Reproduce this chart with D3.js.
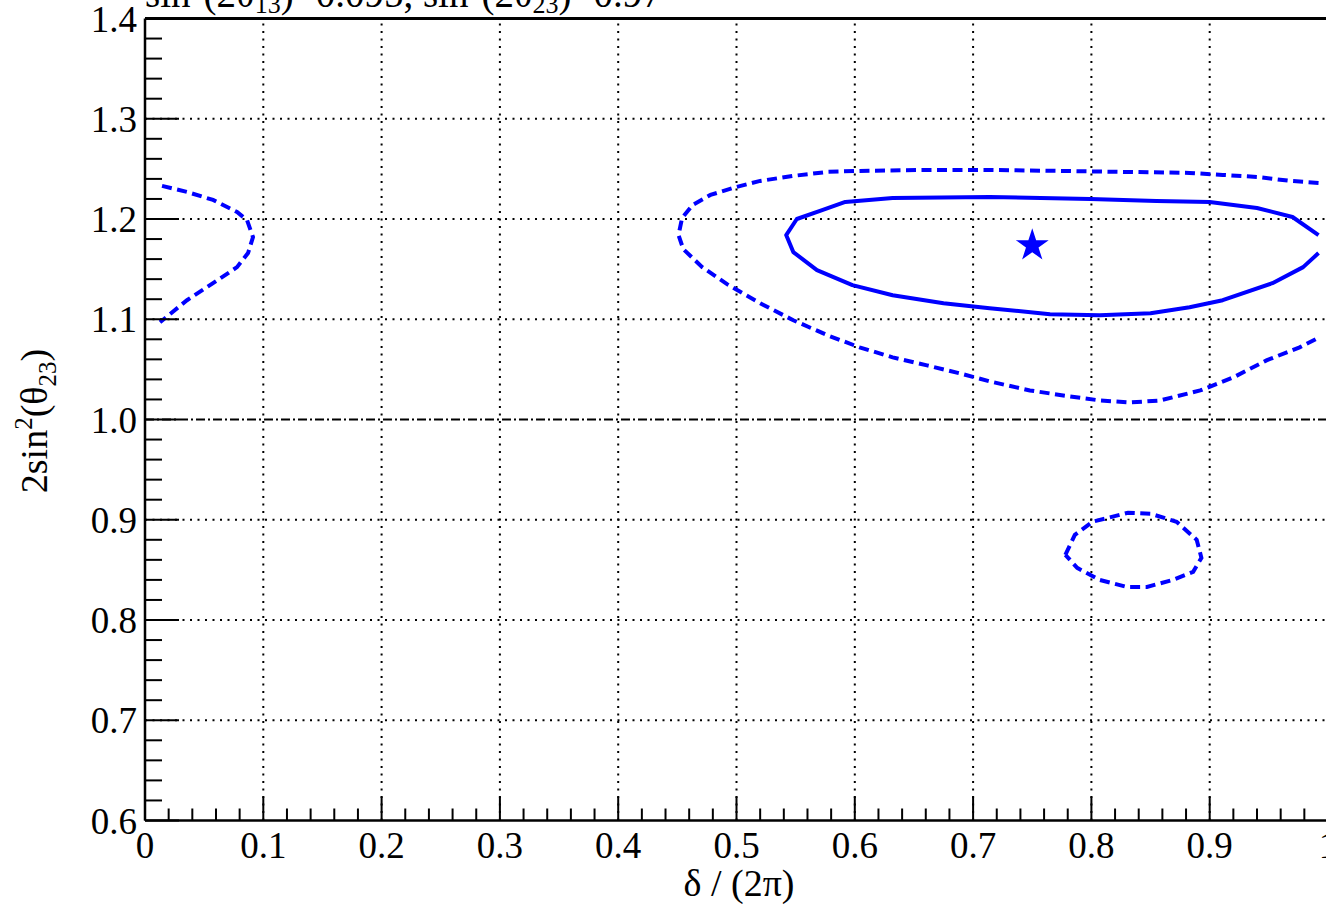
<!DOCTYPE html>
<html>
<head>
<meta charset="utf-8">
<script src="https://cdn.jsdelivr.net/npm/d3@7"></script>
<style>
  html, body { margin: 0; padding: 0; background: #fff; }
  svg { display: block; }
  text { font-family: "Liberation Serif", "DejaVu Serif", serif; fill: #000; }
</style>
</head>
<body>
<svg id="chart" width="1326" height="904"></svg>
<script>
// ---------------- data ----------------
const xTicks = [0, 0.1, 0.2, 0.3, 0.4, 0.5, 0.6, 0.7, 0.8, 0.9, 1];
const xTickLabels = ["0", "0.1", "0.2", "0.3", "0.4", "0.5", "0.6", "0.7", "0.8", "0.9", "1"];
const yTicks = [0.6, 0.7, 0.8, 0.9, 1.0, 1.1, 1.2, 1.3, 1.4];
const yTickLabels = ["0.6", "0.7", "0.8", "0.9", "1.0", "1.1", "1.2", "1.3", "1.4"];

// 1 sigma contour (solid), open at right edge
const solidContour = [
  [0.992, 1.184], [0.970, 1.202], [0.940, 1.211], [0.900, 1.217], [0.855, 1.218],
  [0.799, 1.220], [0.714, 1.222], [0.632, 1.221], [0.592, 1.217], [0.573, 1.209],
  [0.551, 1.200], [0.542, 1.184], [0.548, 1.167], [0.568, 1.149], [0.598, 1.134],
  [0.632, 1.124], [0.675, 1.116], [0.714, 1.111], [0.765, 1.105], [0.807, 1.104],
  [0.850, 1.106], [0.883, 1.112], [0.911, 1.119], [0.953, 1.136], [0.979, 1.152],
  [0.992, 1.166]
];

// 2 sigma contour (dashed), large region
const dashedContourMain = [
  [0.992, 1.236], [0.968, 1.238], [0.940, 1.242], [0.911, 1.244], [0.883, 1.246],
  [0.827, 1.247], [0.771, 1.248], [0.714, 1.249], [0.661, 1.249], [0.604, 1.248],
  [0.577, 1.247], [0.548, 1.243], [0.520, 1.238], [0.500, 1.232], [0.478, 1.224],
  [0.463, 1.214], [0.454, 1.201], [0.451, 1.184], [0.455, 1.170], [0.463, 1.161],
  [0.471, 1.152], [0.492, 1.135], [0.520, 1.116], [0.548, 1.099], [0.577, 1.084],
  [0.604, 1.072], [0.632, 1.062], [0.661, 1.054], [0.689, 1.046], [0.714, 1.038],
  [0.748, 1.029], [0.782, 1.023], [0.807, 1.019], [0.833, 1.017], [0.858, 1.019],
  [0.892, 1.029], [0.920, 1.042], [0.948, 1.059], [0.976, 1.072], [0.991, 1.081]
];

// 2 sigma contour (dashed), near delta = 0
const dashedContourLeft = [
  [0.0144, 1.233], [0.0355, 1.227], [0.0575, 1.219], [0.0778, 1.207], [0.0862, 1.199],
  [0.0913, 1.182], [0.0871, 1.166], [0.0778, 1.152], [0.0575, 1.136], [0.0355, 1.119],
  [0.0127, 1.097]
];

// 2 sigma contour (dashed), small island below 1.0
const dashedContourIsland = [
  [0.778, 0.865], [0.786, 0.885], [0.801, 0.898], [0.831, 0.907], [0.850, 0.906],
  [0.872, 0.898], [0.889, 0.880], [0.893, 0.862], [0.886, 0.848], [0.869, 0.840],
  [0.847, 0.833], [0.830, 0.833], [0.807, 0.840], [0.788, 0.852], [0.778, 0.865]
];

// best fit point
const bestFit = [0.75, 1.1735];

// ---------------- drawing ----------------
const svg = d3.select("#chart");
const x = d3.scaleLinear().domain([0, 1]).range([145, 1328]);
const y = d3.scaleLinear().domain([0.6, 1.4]).range([820.5, 18.5]);

const blue = "#0000ff";

// grid lines
const gridX = xTicks.filter(v => v > 0 && v < 1);
svg.append("g").selectAll("line").data(gridX).join("line")
  .attr("x1", d => x(d)).attr("x2", d => x(d))
  .attr("y1", y(0.6)).attr("y2", y(1.4))
  .attr("stroke", "#000").attr("stroke-width", 2).attr("stroke-dasharray", "2 5.5");

const gridY = yTicks.filter(v => v > 0.6 && v < 1.4 && Math.abs(v - 1.0) > 1e-9);
svg.append("g").selectAll("line").data(gridY).join("line")
  .attr("x1", x(0)).attr("x2", x(1))
  .attr("y1", d => y(d)).attr("y2", d => y(d))
  .attr("stroke", "#000").attr("stroke-width", 2).attr("stroke-dasharray", "2 5.5");

// dash-dot line at 1.0
svg.append("line")
  .attr("x1", x(0)).attr("x2", x(1))
  .attr("y1", y(1.0)).attr("y2", y(1.0))
  .attr("stroke", "#000").attr("stroke-width", 2).attr("stroke-dasharray", "9 3 2 3");

// contours
const line = d3.line().x(d => x(d[0])).y(d => y(d[1]));
svg.append("path").attr("d", line(solidContour))
  .attr("fill", "none").attr("stroke", blue).attr("stroke-width", 4)
  .attr("stroke-linejoin", "round");
[dashedContourMain, dashedContourLeft, dashedContourIsland].forEach(c => {
  svg.append("path").attr("d", line(c))
    .attr("fill", "none").attr("stroke", blue).attr("stroke-width", 4)
    .attr("stroke-dasharray", "10 5.5");
});

// star
svg.append("path")
  .attr("d", d3.symbol().type(d3.symbolStar).size(335)())
  .attr("transform", `translate(${x(bestFit[0])},${y(bestFit[1])})`)
  .attr("fill", blue);

// axes frame
svg.append("line").attr("x1", x(0)).attr("x2", x(1)).attr("y1", y(0.6)).attr("y2", y(0.6))
  .attr("stroke", "#000").attr("stroke-width", 2.5);
svg.append("line").attr("x1", x(0)).attr("x2", x(1)).attr("y1", y(1.4)).attr("y2", y(1.4))
  .attr("stroke", "#000").attr("stroke-width", 3);
svg.append("line").attr("x1", x(0)).attr("x2", x(0)).attr("y1", y(0.6)).attr("y2", y(1.4))
  .attr("stroke", "#000").attr("stroke-width", 2.5);

// x ticks
const xMinor = d3.range(0, 51).map(i => i / 50);
svg.append("g").selectAll("line").data(xMinor).join("line")
  .attr("x1", d => x(d)).attr("x2", d => x(d))
  .attr("y1", y(0.6)).attr("y2", (d, i) => y(0.6) - (i % 5 === 0 ? 24 : 12))
  .attr("stroke", "#000").attr("stroke-width", 2);

// y ticks
const yMinor = d3.range(0, 41).map(i => 0.6 + i / 50);
svg.append("g").selectAll("line").data(yMinor).join("line")
  .attr("x1", x(0)).attr("x2", (d, i) => x(0) + (i % 5 === 0 ? 34 : 17))
  .attr("y1", d => y(d)).attr("y2", d => y(d))
  .attr("stroke", "#000").attr("stroke-width", 2);

// x tick labels
svg.append("g").selectAll("text").data(xTicks).join("text")
  .attr("x", d => x(d)).attr("y", 858)
  .attr("text-anchor", "middle").attr("font-size", 37)
  .text((d, i) => xTickLabels[i]);

// y tick labels
svg.append("g").selectAll("text").data(yTicks).join("text")
  .attr("x", 137).attr("y", d => y(d) + 13)
  .attr("text-anchor", "end").attr("font-size", 37)
  .text((d, i) => yTickLabels[i]);

// x axis title
svg.append("text").attr("x", 739).attr("y", 896)
  .attr("text-anchor", "middle").attr("font-size", 38)
  .text("δ / (2π)");

// y axis title
const yt = svg.append("text")
  .attr("transform", "translate(47,421) rotate(-90)")
  .attr("text-anchor", "middle").attr("font-size", 38);
yt.append("tspan").text("2sin");
yt.append("tspan").attr("font-size", 25).attr("dy", -15).text("2");
yt.append("tspan").attr("dy", 15).text("(θ");
yt.append("tspan").attr("font-size", 25).attr("dy", 9).text("23");
yt.append("tspan").attr("dy", -9).text(")");

// title (partly cut by the top edge)
const tt = svg.append("text").attr("x", 145).attr("y", 7).attr("font-size", 39);
tt.append("tspan").text("sin");
tt.append("tspan").attr("font-size", 26).attr("dy", -15).text("2");
tt.append("tspan").attr("dy", 15).text("(2θ");
tt.append("tspan").attr("font-size", 26).attr("dy", 6).text("13");
tt.append("tspan").attr("dy", -6).text(")=0.095, sin");
tt.append("tspan").attr("font-size", 26).attr("dy", -15).text("2");
tt.append("tspan").attr("dy", 15).text("(2θ");
tt.append("tspan").attr("font-size", 26).attr("dy", 6).text("23");
tt.append("tspan").attr("dy", -6).text(")=0.97");
</script>
</body>
</html>
